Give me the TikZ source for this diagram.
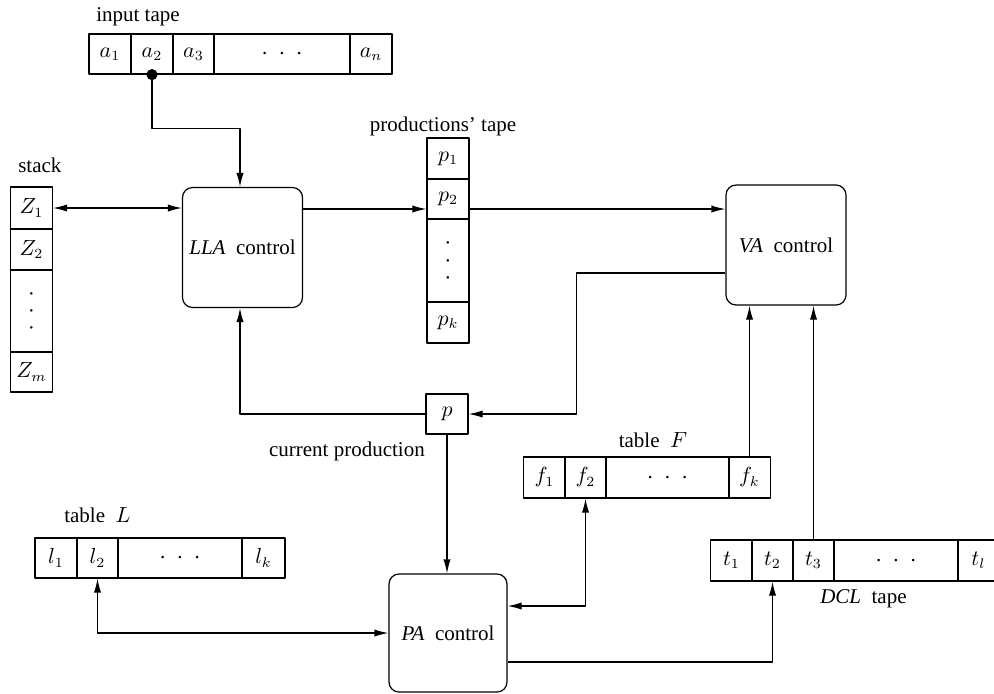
\documentclass[tikz,border=0pt]{standalone}
\usepackage{fontspec}
\setmainfont{Liberation Serif}
\usetikzlibrary{arrows.meta}
\newcommand{\hdots}{.\hspace{6pt}.\hspace{6pt}.}
\newcommand{\vdotsc}{\rotatebox{90}{\hdots}}

\begin{document}
\begin{tikzpicture}[x=0.5pt,y=-0.5pt,line width=0.6pt,line join=round,
  font=\fontsize{10.5}{12}\selectfont,
  cell/.style={draw,inner sep=0pt,minimum width=21pt,minimum height=20pt},
  ctrl/.style={draw,rounded corners=5pt,inner sep=0pt,minimum width=60pt,minimum height=60pt},
  arr/.style={-{Latex[length=7pt,width=3.6pt]}},
  darr/.style={{Latex[length=7pt,width=3.6pt]}-{Latex[length=7pt,width=3.6pt]}}]
\useasboundingbox (0,0) rectangle (994,693);
\clip (0,0) rectangle (994,693);
% input tape
\node[anchor=base west] (inlbl) at (89,21) {input tape};
\node[cell] (a1) at (110,54) {$a_1$};
\node[cell] (a2) at (152,54) {$a_2$};
\node[cell] (a3) at (193.5,54) {$a_3$};
\node[cell,minimum width=68pt] (adots) at (282,54) {\hdots};
\node[cell] (an) at (371,54) {$a_n$};
% stack
\node[anchor=base west] (stklbl) at (11,172) {stack};
\node[cell,minimum height=21pt] (z1) at (31.5,208) {$Z_1$};
\node[cell,minimum height=20.5pt] (z2) at (31.5,249.5) {$Z_2$};
\node[cell,minimum height=41pt] (zdots) at (31.5,311) {\vdotsc};
\node[cell] (zm) at (31.5,372) {$Z_m$};
% productions' tape
\node[anchor=base] (prlbl) at (443,131) {productions' tape};
\node[cell,minimum height=20.5pt] (p1) at (448,158.5) {$p_1$};
\node[cell] (p2) at (448,199) {$p_2$};
\node[cell,minimum height=41.5pt] (pdots) at (448,260.5) {\vdotsc};
\node[cell,minimum height=20.5pt] (pk) at (448,322.5) {$p_k$};
% controls
\node[ctrl] (lla) at (242.5,247.5) {\textit{LLA}\enspace control};
\node[ctrl] (va) at (786,245) {\textit{VA}\enspace control};
\node[ctrl,minimum width=59pt,minimum height=59pt] (pa) at (448,633) {\textit{PA}\enspace control};
% current production
\node[cell] (p) at (447,414) {$p$};
\node[anchor=base east] (curlbl) at (432,456) {current production};
% table F
\node[anchor=base] (flbl) at (653,447) {table\enspace$F$};
\node[cell,minimum height=20.5pt] (f1) at (544.5,477.5) {$f_1$};
\node[cell,minimum height=20.5pt] (f2) at (585.5,477.5) {$f_2$};
\node[cell,minimum height=20.5pt,minimum width=61.5pt] (fdots) at (667.5,477.5) {\hdots};
\node[cell,minimum height=20.5pt] (fk) at (749.5,477.5) {$f_k$};
% table L
\node[anchor=base west] (llbl) at (57,522) {table\enspace$L$};
\node[cell] (l1) at (56,558) {$l_1$};
\node[cell] (l2) at (97.5,558) {$l_2$};
\node[cell,minimum width=62pt] (ldots) at (180,558) {\hdots};
\node[cell,minimum width=21.5pt] (lk) at (263.5,558) {$l_k$};
% DCL tape
\node[cell,minimum height=20.5pt] (t1) at (731.5,560.5) {$t_1$};
\node[cell,minimum height=20.5pt] (t2) at (772.5,560.5) {$t_2$};
\node[cell,minimum height=20.5pt] (t3) at (813.5,560.5) {$t_3$};
\node[cell,minimum height=20.5pt,minimum width=62pt] (tdots) at (896,560.5) {\hdots};
\node[cell,minimum height=20.5pt] (tl) at (978.5,560.5) {$t_l$};
\node[anchor=base west] (dcllbl) at (813,603) {\textit{DCL}\enspace tape};
% connectors
\fill (a2.south) circle (2.8pt);
\draw[arr] (a2.south) -- ++(0,54) -| ([xshift=-1.25pt]lla.north);
\draw[darr] (z1.east) -- (z1.east -| lla.west);
\coordinate (p2in) at ([yshift=-5pt]p2.west);
\coordinate (p2out) at ([yshift=-5pt]p2.east);
\draw[arr] (lla.east |- p2in) -- (p2in);
\draw[arr] (p2out) -- (p2out -| va.west);
\draw[arr] ([yshift=-14pt]va.west) -- ++(-149,0) |- (p.east);
\draw[arr] (p.west) -| ([xshift=-1.25pt]lla.south);
\draw[arr] (p.south) -- (p.south |- pa.north);
\draw[darr] (f2.south) |- ([yshift=13.5pt]pa.east);
\draw[arr] (fk.north) -- (fk.north |- va.south);
\draw[arr] (t3.north) -- (t3.north |- va.south);
\draw[arr] ([yshift=-14.5pt]pa.east) -| (t2.south);
\draw[darr] (l2.south) |- (pa.west);
\end{tikzpicture}
\end{document}
